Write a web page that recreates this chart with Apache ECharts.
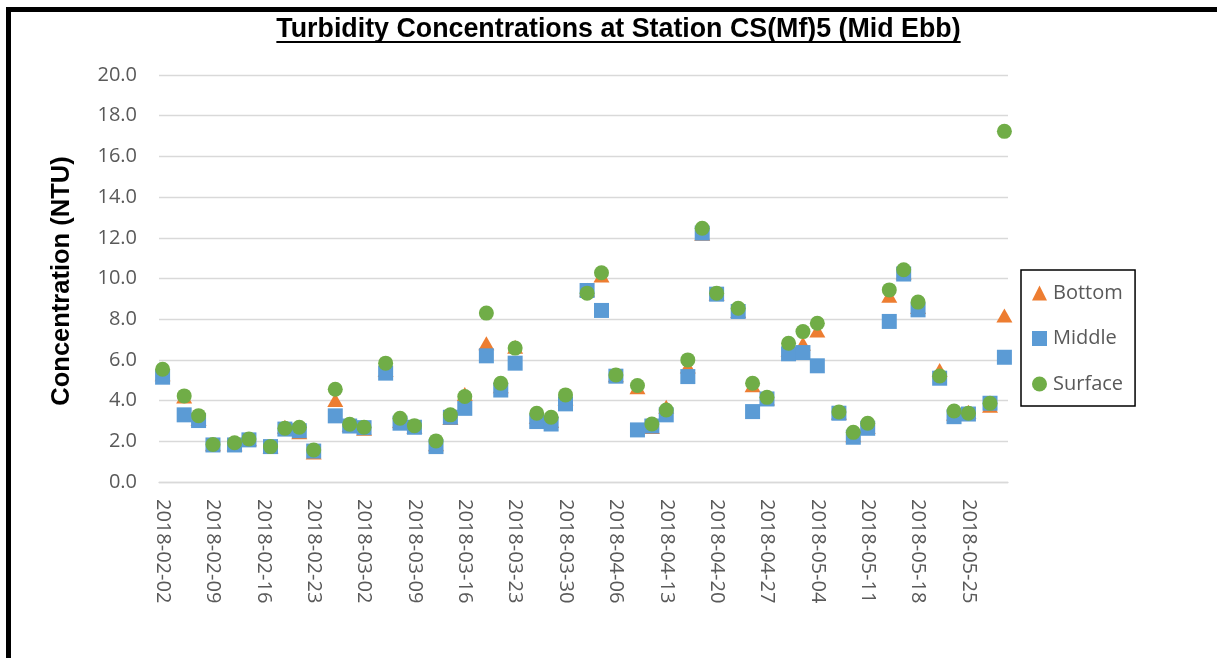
<!DOCTYPE html>
<html>
<head>
<meta charset="utf-8">
<script src="https://cdn.jsdelivr.net/npm/echarts@6/dist/echarts.min.js"></script>
<style>
  html, body { margin: 0; padding: 0; background: #ffffff; }
  #chart { width: 1217px; height: 658px; }
</style>
</head>
<body>
<div id="chart"></div>
<script>
// Sampling dates (Mid Ebb) and turbidity readings in NTU at each depth
const sampleDates = [
  '2018-02-02','2018-02-05','2018-02-07','2018-02-09','2018-02-12','2018-02-14','2018-02-17',
  '2018-02-19','2018-02-21','2018-02-23','2018-02-26','2018-02-28','2018-03-02','2018-03-05',
  '2018-03-07','2018-03-09','2018-03-12','2018-03-14','2018-03-16','2018-03-19','2018-03-21',
  '2018-03-23','2018-03-26','2018-03-28','2018-03-30','2018-04-02','2018-04-04','2018-04-06',
  '2018-04-09','2018-04-11','2018-04-13','2018-04-16','2018-04-18','2018-04-20','2018-04-23',
  '2018-04-25','2018-04-27','2018-04-30','2018-05-02','2018-05-04','2018-05-07','2018-05-09',
  '2018-05-11','2018-05-14','2018-05-16','2018-05-18','2018-05-21','2018-05-23','2018-05-25',
  '2018-05-28','2018-05-30'
];
const bottom = [
  5.3, 4.2, 3.1, 1.85, 1.85, 2.1, 1.75,
  2.72, 2.45, 1.45, 4.03, 2.8, 2.62, 5.5,
  3.0, 2.72, 1.85, 3.15, 4.33, 6.82, 4.7,
  6.65, 3.2, 3.0, 4.1, 9.45, 10.15, 5.25,
  4.65, 2.7, 3.7, 5.67, 12.2, 9.25, 8.4,
  4.75, 4.1, 6.5, 6.79, 7.45, 3.4, 2.3,
  2.7, 9.15, 10.3, 8.6, 5.5, 3.35, 3.45,
  3.75, 8.18
];
const middle = [
  5.15, 3.3, 3.02, 1.82, 1.82, 2.07, 1.74,
  2.6, 2.52, 1.52, 3.25, 2.75, 2.67, 5.35,
  2.89, 2.69, 1.74, 3.18, 3.62, 6.2, 4.52,
  5.84, 2.97, 2.85, 3.84, 9.41, 8.43, 5.2,
  2.56, 2.75, 3.3, 5.18, 12.23, 9.23, 8.38,
  3.46, 4.08, 6.3, 6.36, 5.71, 3.38, 2.2,
  2.64, 7.89, 10.22, 8.46, 5.1, 3.21, 3.34,
  3.87, 6.13
];
const surface = [
  5.54, 4.23, 3.26, 1.84, 1.93, 2.11, 1.74,
  2.64, 2.69, 1.57, 4.56, 2.84, 2.69, 5.84,
  3.13, 2.77, 2.02, 3.3, 4.2, 8.3, 4.85,
  6.58, 3.38, 3.18, 4.28, 9.28, 10.28, 5.26,
  4.74, 2.85, 3.54, 6.0, 12.47, 9.28, 8.54,
  4.85, 4.16, 6.82, 7.39, 7.8, 3.44, 2.44,
  2.89, 9.44, 10.43, 8.84, 5.21, 3.49, 3.38,
  3.87, 17.23
];
const seriesNames = ['Bottom', 'Middle', 'Surface'];
const axisFirstDay = '2018-02-02';
const axisLastDay = '2018-05-30';
const yMin = 0, yMax = 20, yStep = 2;

const TITLE = 'Turbidity Concentrations at Station CS(Mf)5 (Mid Ebb)';
const Y_NAME = 'Concentration (NTU)';

// One category per calendar day across the date axis
function dayRange(a, b) {
  const out = [];
  const d = new Date(a + 'T00:00:00Z');
  const end = new Date(b + 'T00:00:00Z');
  while (d <= end) {
    out.push(d.toISOString().slice(0, 10));
    d.setUTCDate(d.getUTCDate() + 1);
  }
  return out;
}
const days = dayRange(axisFirstDay, axisLastDay);

const pairs = vals => sampleDates.map((d, i) => [d, vals[i]]);

const labelFont = '"Open Sans", "DejaVu Sans", sans-serif';
const titleFont = '"Liberation Sans", Arial, sans-serif';
const gridLeft = 159, gridTop = 75, gridWidth = 849, gridHeight = 407;

// Width of the title, for the underline
const titleSize = 26.8;
const ctx = document.createElement('canvas').getContext('2d');
ctx.font = 'bold ' + titleSize + 'px ' + titleFont;
const titleW = ctx.measureText(TITLE).width;
const titleCx = 618.5, titleY = 30;

const chart = echarts.init(document.getElementById('chart'), null, { renderer: 'canvas' });
chart.setOption({
  backgroundColor: '#ffffff',
  animation: false,
  grid: { left: gridLeft, top: gridTop, width: gridWidth, height: gridHeight, containLabel: false },
  xAxis: {
    type: 'category',
    data: days,
    boundaryGap: true,
    axisLine: { show: true, lineStyle: { color: '#d9d9d9', width: 1.3 } },
    axisTick: { show: false },
    splitLine: { show: false },
    axisLabel: {
      interval: 6,
      rotate: -90,
      margin: 17,
      color: '#595959',
      fontFamily: labelFont,
      fontSize: 20
    }
  },
  yAxis: {
    type: 'value',
    min: yMin,
    max: yMax,
    interval: yStep,
    axisLine: { show: false },
    axisTick: { show: false },
    splitLine: { show: true, lineStyle: { color: '#d9d9d9', width: 1.3 } },
    axisLabel: {
      margin: 22,
      color: '#595959',
      fontFamily: labelFont,
      fontSize: 20,
      formatter: v => v.toFixed(1)
    }
  },
  legend: {
    orient: 'vertical',
    left: 1021,
    top: 270,
    padding: [13, 12, 12, 11],
    itemGap: 25.5,
    itemWidth: 15,
    itemHeight: 15,
    borderColor: '#000000',
    borderWidth: 1.5,
    textStyle: { color: '#595959', fontFamily: labelFont, fontSize: 20, padding: [0, 0, 0, 1] },
    data: [
      { name: seriesNames[0], icon: 'triangle' },
      { name: seriesNames[1], icon: 'rect' },
      { name: seriesNames[2], icon: 'circle' }
    ]
  },
  series: [
    {
      name: seriesNames[0], type: 'scatter', symbol: 'triangle', symbolSize: [16, 14],
      itemStyle: { color: '#ED7D31', opacity: 1 }, data: pairs(bottom), z: 2
    },
    {
      name: seriesNames[1], type: 'scatter', symbol: 'rect', symbolSize: 15,
      itemStyle: { color: '#5B9BD5', opacity: 1 }, data: pairs(middle), z: 3
    },
    {
      name: seriesNames[2], type: 'scatter', symbol: 'circle', symbolSize: 15,
      itemStyle: { color: '#70AD47', opacity: 1 }, data: pairs(surface), z: 4
    }
  ],
  graphic: [
    {
      type: 'rect', silent: true,
      shape: { x: 8.5, y: 9.5, width: 1400, height: 900 },
      style: { fill: null, stroke: '#000000', lineWidth: 5 }
    },
    {
      type: 'text', silent: true, x: titleCx, y: titleY,
      style: {
        text: TITLE, fill: '#000000', font: 'bold ' + titleSize + 'px ' + titleFont,
        textAlign: 'center', textVerticalAlign: 'middle'
      }
    },
    {
      type: 'line', silent: true,
      shape: { x1: titleCx - titleW / 2, y1: titleY + 12, x2: titleCx + titleW / 2, y2: titleY + 12 },
      style: { stroke: '#000000', lineWidth: 2 }
    },
    {
      type: 'text', silent: true, x: 62, y: 281, rotation: Math.PI / 2,
      style: {
        text: Y_NAME, fill: '#000000', font: 'bold 25.5px ' + titleFont,
        textAlign: 'center', textVerticalAlign: 'middle'
      }
    }
  ]
});
</script>
</body>
</html>
